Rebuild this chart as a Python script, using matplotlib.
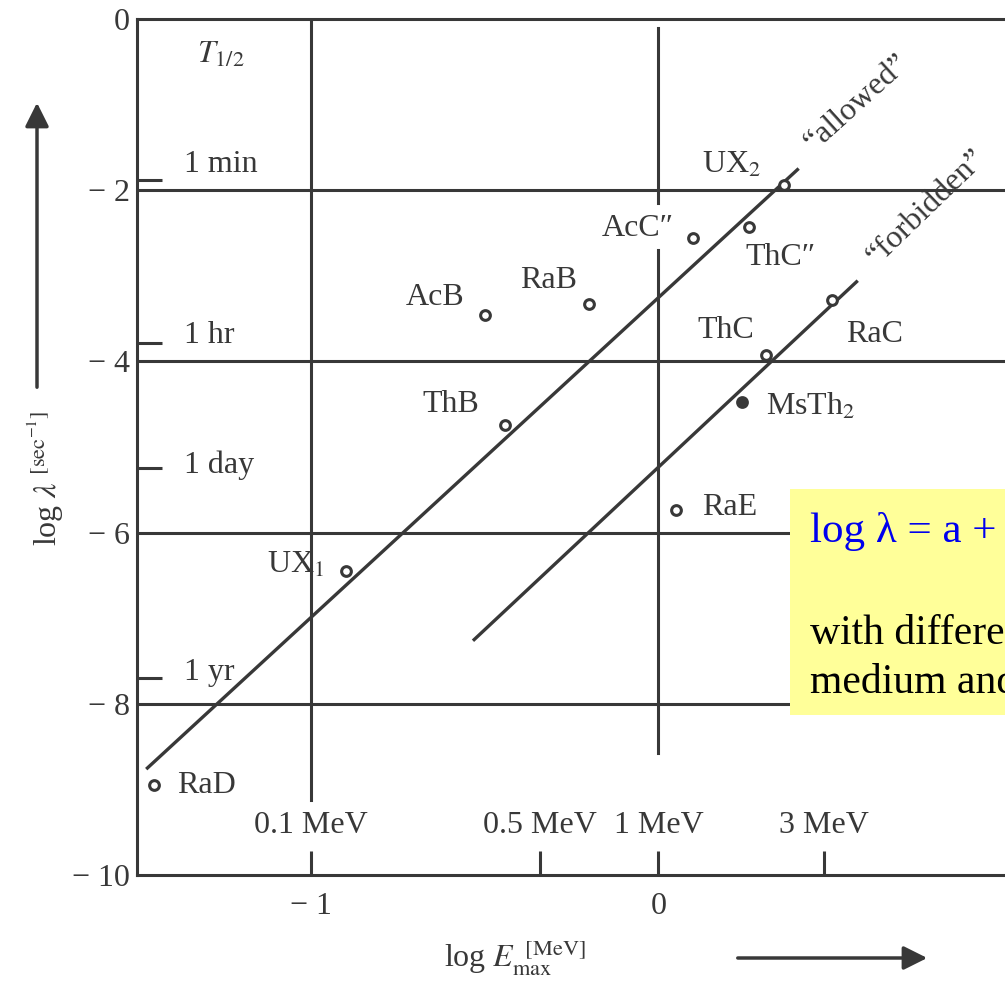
import matplotlib.pyplot as plt
from matplotlib.patches import Rectangle

plt.rcParams['font.family'] = ['Liberation Serif', 'DejaVu Serif']
plt.rcParams['mathtext.fontset'] = 'stix'

# beta emitters: log E_max [MeV] vs log lambda [1/s]
nuclides = ['RaD', 'UX$_1$', 'ThB', 'AcB', 'RaB', 'AcC″', 'ThC″', 'UX$_2$',
            'RaC', 'ThC', 'MsTh$_2$', 'RaE']
log_e = [-1.45, -0.90, -0.44, -0.50, -0.20, 0.10, 0.26, 0.36, 0.50, 0.31, 0.24, 0.05]
log_lam = [-8.95, -6.45, -4.74, -3.46, -3.33, -2.56, -2.43, -1.94, -3.28, -3.93, -4.47, -5.74]
filled = ['MsTh$_2$']

# the two Sargent lines
allowed_e = [-1.47, 0.40]
allowed_lam = [-8.75, -1.76]
forbidden_e = [-0.53, 0.57]
forbidden_lam = [-7.25, -3.07]

half_life_labels = ['1 min', '1 hr', '1 day', '1 yr']
half_life_log = [-1.88, -3.78, -5.25, -7.70]

energy_labels = ['0.1 MeV', '0.5 MeV', '1 MeV', '3 MeV']
energy_log = [-1.0, -0.34, 0.0, 0.477]

# label offsets in pixels (layout only)
label_off = {'RaD': (52, 0), 'UX$_1$': (-50, 6), 'ThB': (-55, 20), 'AcB': (-49, 18),
             'RaB': (-40, 24), 'AcC″': (-55, 10), 'ThC″': (32, -30), 'UX$_2$': (-52, 20),
             'RaC': (42, -35), 'ThC': (-40, 25), 'MsTh$_2$': (69, -5), 'RaE': (54, 3)}
hl_off = [15, 7, 3, 6]

ink = '#383838'
fs = 23

fig = plt.figure(figsize=(10.05, 9.83), dpi=100)
ax = fig.add_axes([137 / 1005, 1 - 875 / 983, 869 / 1005, 856 / 983])
ax.set_xlim(-1.5, 1.0)
ax.set_ylim(-10, 0)

for s in ['left', 'top', 'bottom']:
    ax.spines[s].set_linewidth(2.2)
    ax.spines[s].set_color(ink)
ax.spines['right'].set_visible(False)

# grid
for v in [-2, -4, -6, -8]:
    ax.axhline(v, color=ink, lw=2.2, zorder=1)
ax.plot([-1, -1], [0, -9.12], color=ink, lw=2.2, zorder=1)
ax.plot([0, 0], [-0.1, -2.15], color=ink, lw=2.2, zorder=1)
ax.plot([0, 0], [-2.70, -8.57], color=ink, lw=2.2, zorder=1)

# lines
ax.plot(allowed_e, allowed_lam, color=ink, lw=2.4, zorder=2)
ax.plot(forbidden_e, forbidden_lam, color=ink, lw=2.4, zorder=2)
ax.text(0.57, -0.98, '“allowed”', rotation=42, ha='center', va='center',
        fontsize=fs, color=ink, rotation_mode='anchor')
ax.text(0.77, -2.20, '“forbidden”', rotation=44, ha='center', va='center',
        fontsize=fs, color=ink, rotation_mode='anchor')

# points
for n, xe, yl in zip(nuclides, log_e, log_lam):
    fc = ink if n in filled else 'white'
    ax.plot(xe, yl, 'o', ms=7, mfc=fc, mec=ink, mew=2.2, zorder=4)
    ax.annotate(n, (xe, yl), xytext=label_off[n], textcoords='offset pixels',
                ha='center', va='center', fontsize=fs, color=ink, zorder=4)

# ticks
ax.set_yticks([0, -2, -4, -6, -8, -10])
ax.set_yticklabels(['0', '− 2', '− 4', '− 6', '− 8', '− 10'])
ax.set_yticks(half_life_log, minor=True)
ax.tick_params(axis='y', which='major', length=0, pad=5, labelsize=fs, labelcolor=ink)
ax.tick_params(axis='y', which='minor', direction='in', length=18, width=2.2, color=ink)
ax.set_xticks([-1, 0])
ax.set_xticklabels(['− 1', '0'])
ax.set_xticks([-0.34, 0.477], minor=True)
ax.tick_params(axis='x', which='both', direction='in', length=17, width=2.2, color=ink,
               pad=12, labelsize=fs, labelcolor=ink)

for lab, v, dy in zip(half_life_labels, half_life_log, hl_off):
    ax.annotate(lab, (-1.5, v), xytext=(47, dy), textcoords='offset pixels',
                ha='left', va='center', fontsize=fs, color=ink)

for lab, v in zip(energy_labels, energy_log):
    ax.text(v, -9.42, lab, ha='center', va='center', fontsize=fs, color=ink)

ax.text(-1.26, -0.42, '$T_{1/2}$', ha='center', va='center', fontsize=fs, color=ink)

# axis titles and arrows
fig.text(45 / 1005, 1 - 478 / 983, r'log $\lambda^{\;[\mathrm{sec}^{-1}]}$', rotation=90,
         ha='center', va='center', fontsize=fs, color=ink)
fig.text(515 / 1005, 1 - 958 / 983, r'log $E_{\mathrm{max}}^{\;\;[\mathrm{MeV}]}$',
         ha='center', va='center', fontsize=fs, color=ink)
ax.annotate('', xy=(37, 983 - 100), xytext=(37, 983 - 390), xycoords='figure pixels',
            textcoords='figure pixels',
            arrowprops=dict(arrowstyle='-|>', lw=2.5, color=ink, mutation_scale=36))
ax.annotate('', xy=(930, 983 - 958), xytext=(735, 983 - 958), xycoords='figure pixels',
            textcoords='figure pixels',
            arrowprops=dict(arrowstyle='-|>', lw=2.5, color=ink, mutation_scale=36))

# yellow note box (cut off by the right edge, as in the source slide)
fig.add_artist(Rectangle((790 / 1005, 1 - 715 / 983), 240 / 1005, 226 / 983,
                         transform=fig.transFigure, fc='#FFFF99', ec='none', zorder=5))
fig.text(810 / 1005, 1 - 542 / 983, 'log λ = a + b log E', color='#0000EE', fontsize=31,
         va='baseline', ha='left', zorder=6)
fig.text(810 / 1005, 1 - 643 / 983, 'with different a for allowed,', color='black',
         fontsize=30, va='baseline', ha='left', zorder=6)
fig.text(810 / 1005, 1 - 693 / 983, 'medium and forbidden', color='black',
         fontsize=30, va='baseline', ha='left', zorder=6)

fig.savefig('out.png', dpi=100)
